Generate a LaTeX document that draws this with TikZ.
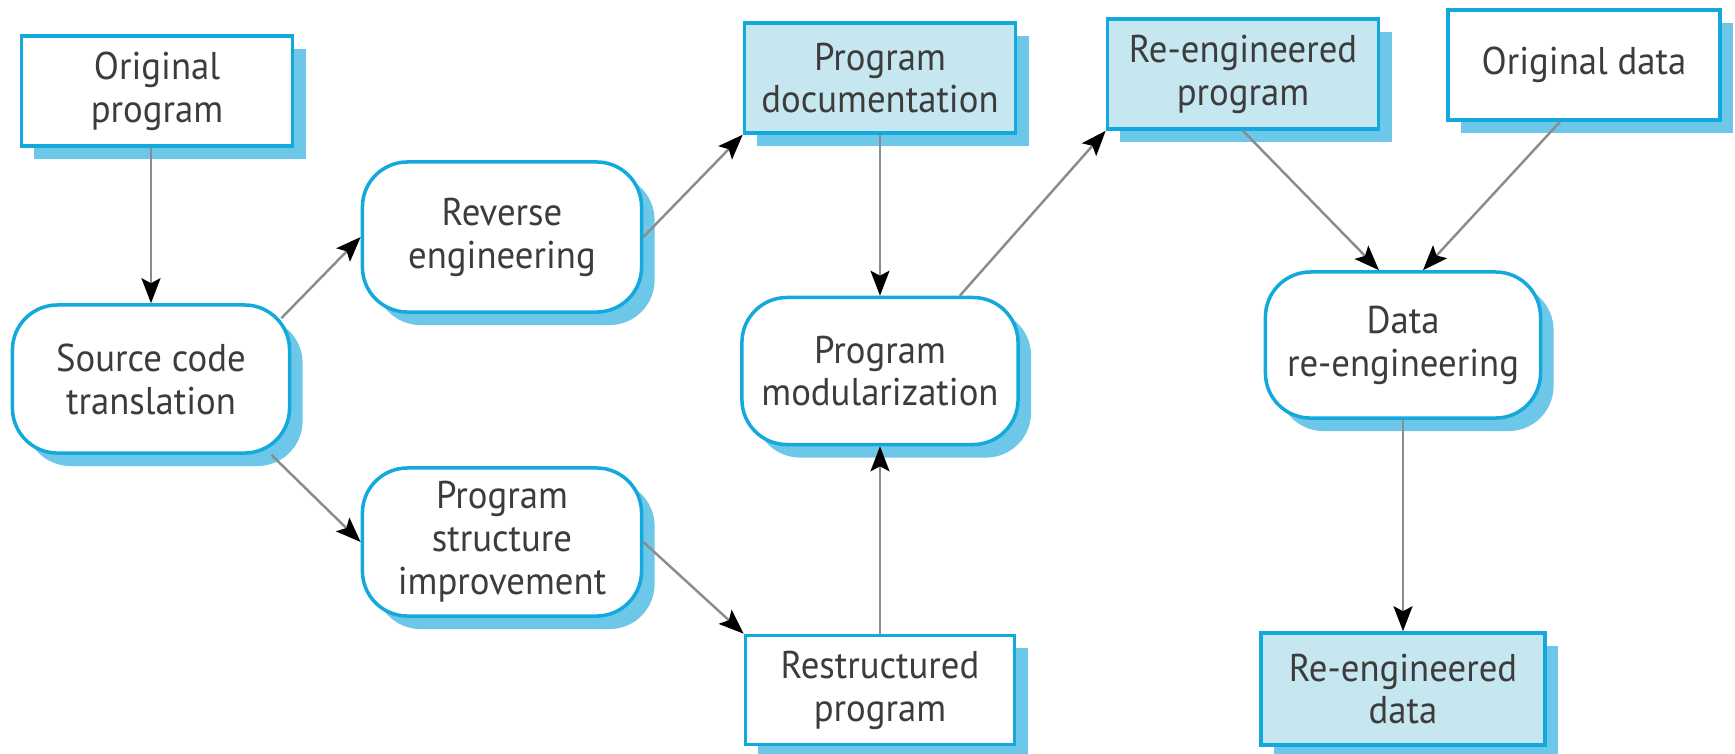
\documentclass[tikz,border=0pt]{standalone}
\usepackage{fontspec}
\setmainfont{PT Sans}[FakeStretch=0.95]
\usetikzlibrary{shadows,arrows.meta}
\definecolor{edgeblue}{HTML}{14A9DD}
\definecolor{shadeblue}{HTML}{6CC7E8}
\definecolor{fillblue}{HTML}{C6E6F0}
\definecolor{textgrey}{HTML}{3C3C3C}
\definecolor{linegrey}{HTML}{8C8C8C}
\tikzset{
	box/.style={rectangle,draw=edgeblue,line width=1pt,fill=white,text=textgrey,
		align=center,font=\fontsize{11}{12.2}\selectfont,minimum width=2.71cm,minimum height=1.1cm,
		drop shadow={shadow xshift=0.13cm,shadow yshift=-0.13cm,fill=shadeblue,opacity=1}},
	doc/.style={box,fill=fillblue},
	act/.style={box,rounded corners=0.45cm,minimum width=2.77cm,minimum height=1.48cm},
	flow/.style={color=linegrey,line width=0.7pt,-{Stealth[length=2.5mm,width=1.9mm,inset=0.5mm,black,fill=black]}}
}
\begin{document}
\begin{tikzpicture}[x=0.01cm,y=-0.01cm]
			\useasboundingbox (0,0) rectangle (1735,753);
			% documents and programs
			\node[box] (orig) at (157,91) {Original\\program};
			\node[doc] (pdoc) at (880,78) {Program\\documentation};
			\node[box,minimum width=2.69cm,minimum height=1.09cm] (restr) at (880,690) {Restructured\\program};
			\node[doc] (reprog) at (1243,74) {Re-engineered\\program};
			\node[box,minimum width=2.72cm] (odata) at (1584,65) {Original data};
			\node[doc,minimum width=2.84cm,minimum height=1.12cm] (rdata) at (1403,689) {Re-engineered\\data};
			% activities
			\node[act] (src) at (151,379) {Source code\\translation};
			\node[act,minimum width=2.79cm,minimum height=1.5cm] (rev) at (502,237) {Reverse\\engineering};
			\node[act,minimum width=2.79cm] (psi) at (502,542) {Program\\structure\\improvement};
			\node[act,minimum width=2.76cm,minimum height=1.47cm] (mod) at (880,371) {Program\\modularization};
			\node[act,minimum width=2.75cm,minimum height=1.46cm] (dre) at (1403,345) {Data\\re-engineering};
			\path[flow]
			(orig.south -| src) edge (src)
			([xshift=-0.1cm,yshift=-0.15cm]src.north east) edge (rev.west)
			([xshift=-0.2cm]src.south east) edge (psi.west)
			(rev.east) edge (pdoc.south west)
			(psi.east) edge (restr.north west)
			(pdoc) edge (mod)
			(restr) edge (mod)
			([xshift=-0.6cm]mod.north east) edge (reprog.south west)
			(reprog.south) edge ([xshift=-0.24cm]dre.north)
			([xshift=-0.24cm]odata.south) edge ([xshift=0.2cm]dre.north)
			(dre) edge (rdata);
		\end{tikzpicture}
\end{document}
